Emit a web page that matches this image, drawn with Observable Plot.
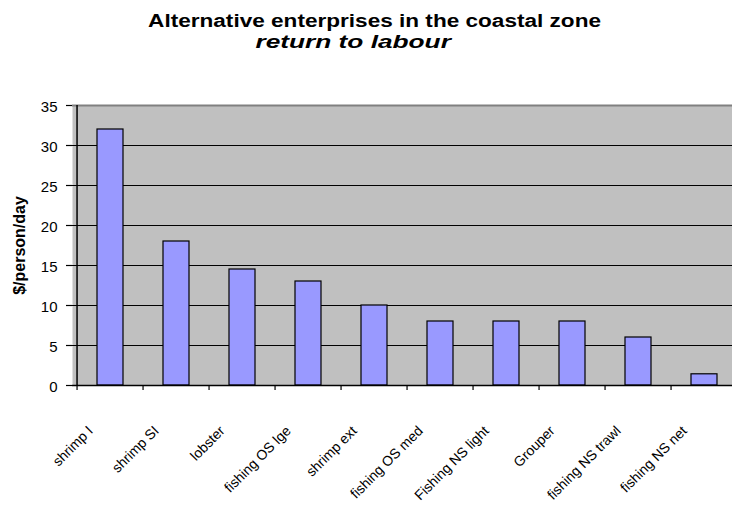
<!DOCTYPE html>
<html><head><meta charset="utf-8">
<script src="https://cdn.jsdelivr.net/npm/d3@7"></script>
<script src="https://cdn.jsdelivr.net/npm/@observablehq/plot@0.6"></script>
<style>
html,body{margin:0;padding:0;background:#fff;font-family:"Liberation Sans",Arial,sans-serif;overflow:hidden;}
#wrap{position:relative;width:732px;height:509px;overflow:hidden;}
#title{position:relative;height:60px;overflow:hidden;}
.t{position:absolute;text-align:center;font-weight:bold;font-size:17.5px;line-height:20px;white-space:nowrap;color:#000;}
.t span{display:inline-block;transform-origin:50% 50%;}
#chart svg{display:block;}
</style></head><body>
<div id="wrap">
<div id="title">
 <div class="t" style="top:11px;left:9px;width:732px;"><span style="transform:scaleX(1.29)">Alternative enterprises in the coastal zone</span></div>
 <div class="t" style="top:32px;left:0;width:706px;font-style:italic"><span style="transform:scaleX(1.5)">return to labour</span></div>
</div>
<div id="chart"></div>
</div>
<script>
const categories = ["shrimp I", "shrimp SI", "lobster", "fishing OS lge", "shrimp ext", "fishing OS med", "Fishing NS light", "Grouper", "fishing NS trawl", "fishing NS net"];
const values = [32, 18, 14.5, 13, 10, 8, 8, 8, 6, 1.4];
const yTicks = [0, 5, 10, 15, 20, 25, 30, 35];
const yLabel = "$/person/day";

const W = 732, ML = 72, MR = -9, MT = 45, MB = 124, H = 449;
const step = (W - ML - MR) / categories.length;
const plotH = H - MT - MB;
const data = categories.map((c, i) => ({category: c, value: values[i]}));

const chart = Plot.plot({
  width: W, height: H,
  marginTop: MT, marginBottom: MB, marginLeft: ML, marginRight: MR,
  style: {fontFamily: '"Liberation Sans", Arial, sans-serif', fontSize: "15px", color: "black", background: "transparent", overflow: "hidden"},
  x: {type: "band", domain: categories, paddingInner: 0.61, paddingOuter: 0.305, axis: null},
  y: {domain: [0, 35], axis: null},
  marks: [
    Plot.frame({fill: "#c0c0c0", stroke: null}),
    Plot.ruleY(yTicks.filter(t => t > 0 && t < 35), {stroke: "black", strokeWidth: 1}),
    Plot.ruleY([35], {stroke: "#808080", strokeWidth: 2}),
    Plot.barY(data, {x: "category", y: "value", fill: "#9999ff", stroke: "black", strokeWidth: 1.2}),
    Plot.ruleY([0], {stroke: "black", strokeWidth: 1.5}),
    Plot.ruleX([categories[0]], {dx: -step / 2, stroke: "black", strokeWidth: 1.5}),
    Plot.ruleY(yTicks, {insetLeft: -6, insetRight: W - ML - MR, stroke: "black", strokeWidth: 1.2}),
    Plot.ruleX(categories, {dx: -step / 2, insetTop: plotH, insetBottom: -5, stroke: "black", strokeWidth: 1.2}),
    Plot.axisY({ticks: yTicks, tickSize: 0, tickPadding: 15, fontSize: 15, tickFormat: d => d, label: null, dy: 2}),
    Plot.text(categories, {x: d => d, frameAnchor: "bottom", rotate: -45, textAnchor: "end", lineAnchor: "middle", dx: -20, dy: 43, fontSize: 14, fill: "black", style: {letterSpacing: "0.4px"}}),
    Plot.text([yLabel], {frameAnchor: "left", rotate: -90, textAnchor: "middle", lineAnchor: "middle", dx: -53, fontWeight: "bold", fontSize: 16, fill: "black", style: {letterSpacing: "1px"}})
  ]
});
document.getElementById("chart").appendChild(chart);
</script>
</body></html>
